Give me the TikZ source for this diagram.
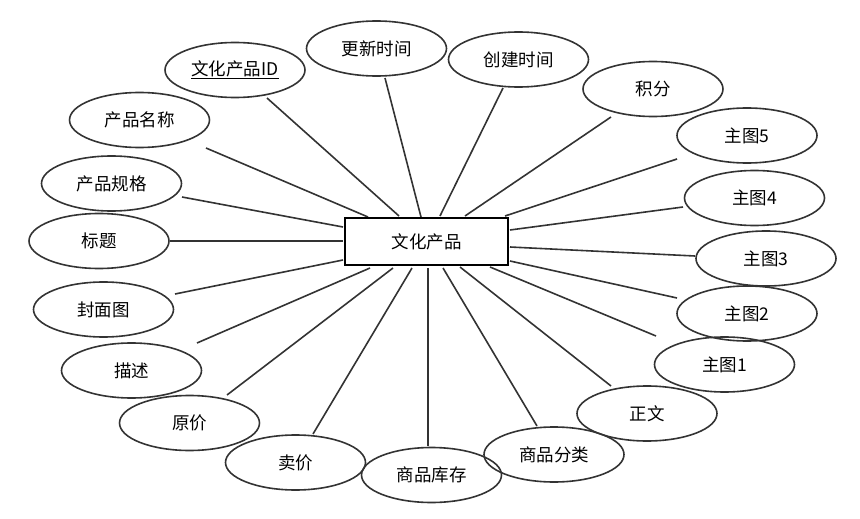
\documentclass[tikz,border=0pt]{standalone}
\usepackage{fontspec}
\setmainfont{Noto Sans CJK SC}
\usetikzlibrary{shapes.geometric}
\begin{document}
\begin{tikzpicture}[x=1pt,y=-1pt,
  attr/.style={ellipse,draw=black!80,line width=1.6pt,minimum width=140pt,minimum height=55pt,inner sep=0pt,font=\fontsize{17.5}{20}\selectfont},
  ent/.style={rectangle,draw=black,fill=white,line width=2.6pt,minimum width=163pt,minimum height=47pt,inner sep=0pt,font=\fontsize{17.5}{20}\selectfont},
  link/.style={draw=black!80,line width=1.6pt}]
\useasboundingbox (0,0) rectangle (860,519);
\node[attr] (eid) at (235,70) {\underline{文化产品ID}};
\node[attr] (eupd) at (376.5,48.5) {更新时间};
\node[attr] (ecre) at (518.5,59.5) {创建时间};
\node[attr] (ejf) at (653,89) {积分};
\node[attr] (e5) at (747,135.5) {主图5};
\node[attr] (e4) at (754.5,198) {主图4};
\node[attr] (e3) at (766,258.5) {主图3};
\node[attr] (e2) at (747,313.5) {主图2};
\node[attr] (e1) at (724.5,364.5) {主图1};
\node[attr] (ezw) at (647,413.5) {正文};
\node[attr] (efl) at (554,454.5) {商品分类};
\node[attr] (ekc) at (431.5,475) {商品库存};
\node[attr] (emj) at (295.5,462.5) {卖价};
\node[attr] (eyj) at (189.5,423) {原价};
\node[attr] (ems) at (131.5,370.5) {描述};
\node[attr] (efm) at (103.5,309.5) {封面图};
\node[attr] (ebt) at (99,241) {标题};
\node[attr] (egg) at (111.5,183.5) {产品规格};
\node[attr] (emc) at (139.5,120) {产品名称};
\coordinate (pc) at (426.5,241.5);
\path[link] ([shift={(32,28)}]eid.center) -- ([shift={(-27.5,-25.5)}]pc);
\path[link] ([shift={(8.5,29.5)}]eupd.center) -- ([shift={(-5.5,-24.5)}]pc);
\path[link] ([shift={(-15.5,28.5)}]ecre.center) -- ([shift={(13.5,-25.5)}]pc);
\path[link] ([shift={(-42,28)}]ejf.center) -- ([shift={(38.5,-25.5)}]pc);
\path[link] ([shift={(-70,23.5)}]e5.center) -- ([shift={(78.5,-25.5)}]pc);
\path[link] ([shift={(-71.5,9)}]e4.center) -- ([shift={(83.5,-11.5)}]pc);
\path[link] ([shift={(-71,-2.5)}]e3.center) -- ([shift={(83.5,5.5)}]pc);
\path[link] ([shift={(-70,-15.5)}]e2.center) -- ([shift={(83.5,19.5)}]pc);
\path[link] ([shift={(-68.5,-28.5)}]e1.center) -- ([shift={(63.5,25.5)}]pc);
\path[link] ([shift={(-36,-27.5)}]ezw.center) -- ([shift={(33.5,25.5)}]pc);
\path[link] ([shift={(-17,-28.5)}]efl.center) -- ([shift={(16.5,26.5)}]pc);
\path[link] ([shift={(-3.5,-29)}]ekc.center) -- ([shift={(1.5,26.5)}]pc);
\path[link] ([shift={(17.5,-28.5)}]emj.center) -- ([shift={(-14.5,26.5)}]pc);
\path[link] ([shift={(37.5,-28)}]eyj.center) -- ([shift={(-33.5,26.5)}]pc);
\path[link] ([shift={(65.5,-27.5)}]ems.center) -- ([shift={(-56.5,26.5)}]pc);
\path[link] ([shift={(71.5,-15.5)}]efm.center) -- ([shift={(-83.5,18.5)}]pc);
\path[link] ([shift={(71,0)}]ebt.center) -- ([shift={(-83.5,-0.5)}]pc);
\path[link] ([shift={(70.5,13.5)}]egg.center) -- ([shift={(-83.5,-14.5)}]pc);
\path[link] ([shift={(66.5,28)}]emc.center) -- ([shift={(-58.5,-24.5)}]pc);
\node[ent] (prod) at (pc) {文化产品};
\end{tikzpicture}
\end{document}
